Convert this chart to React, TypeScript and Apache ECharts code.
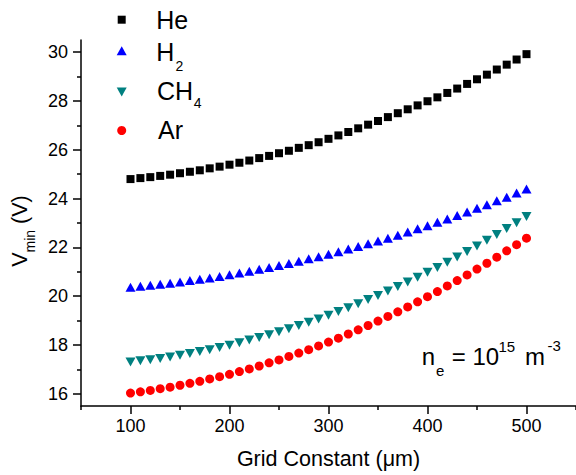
import React, { useEffect, useRef } from "react";
import * as echarts from "echarts";

const gridConstant = [
  100, 110, 120, 130, 140, 150, 160, 170, 180, 190, 200, 210, 220, 230, 240, 250, 260, 270, 280, 290,
  300, 310, 320, 330, 340, 350, 360, 370, 380, 390, 400, 410, 420, 430, 440, 450, 460, 470, 480, 490, 500,
];

const heValues = [
  24.8, 24.84, 24.88, 24.93, 24.98, 25.04, 25.1, 25.16, 25.24, 25.31, 25.39, 25.47, 25.56, 25.66, 25.75,
  25.86, 25.96, 26.08, 26.19, 26.31, 26.45, 26.59, 26.73, 26.88, 27.03, 27.18, 27.34, 27.5, 27.66, 27.82,
  27.99, 28.15, 28.33, 28.51, 28.7, 28.89, 29.08, 29.29, 29.49, 29.7, 29.92,
];

const h2Values = [
  20.37, 20.41, 20.45, 20.49, 20.53, 20.58, 20.64, 20.69, 20.75, 20.81, 20.88, 20.95, 21.02, 21.1, 21.18,
  21.26, 21.34, 21.43, 21.53, 21.62, 21.72, 21.82, 21.93, 22.04, 22.15, 22.26, 22.38, 22.5, 22.63, 22.76,
  22.89, 23.03, 23.16, 23.31, 23.45, 23.6, 23.75, 23.91, 24.06, 24.23, 24.39,
];

const ch4Values = [
  17.3, 17.35, 17.4, 17.45, 17.51, 17.58, 17.65, 17.73, 17.81, 17.9, 17.99, 18.09, 18.2, 18.31, 18.42,
  18.54, 18.67, 18.8, 18.93, 19.07, 19.22, 19.37, 19.53, 19.69, 19.86, 20.03, 20.21, 20.4, 20.58, 20.78,
  20.98, 21.18, 21.39, 21.61, 21.83, 22.06, 22.29, 22.53, 22.77, 23.01, 23.27,
];

const arValues = [
  16.03, 16.08, 16.14, 16.21, 16.27, 16.35, 16.43, 16.51, 16.61, 16.7, 16.8, 16.91, 17.02, 17.14, 17.27,
  17.39, 17.53, 17.67, 17.81, 17.96, 18.12, 18.28, 18.45, 18.62, 18.8, 18.98, 19.17, 19.36, 19.56, 19.77,
  19.98, 20.19, 20.42, 20.64, 20.87, 21.11, 21.35, 21.6, 21.86, 22.11, 22.38,
];

const seriesNames = ["He", "H2", "CH4", "Ar"];
const seriesColors = ["#000000", "#0000FF", "#008080", "#FF0000"];

const xMajorTicks = [100, 200, 300, 400, 500];
const xMinorTicks = [50, 150, 250, 350, 450, 550];
const yMajorTicks = [16, 18, 20, 22, 24, 26, 28, 30];
const yMinorTicks = [17, 19, 21, 23, 25, 27, 29];

const FONT = "'Liberation Sans', Arial, sans-serif";

function pairs(vals: number[]) {
  return gridConstant.map((x, i) => [x, vals[i]]);
}

function txt(text: string, x: number, y: number, size: number) {
  return {
    type: "text",
    x,
    y,
    silent: true,
    style: {
      text,
      fill: "#000",
      fontFamily: FONT,
      fontSize: size,
      align: "left",
      verticalAlign: "middle",
    },
  };
}

export default function App() {
  const ref = useRef<HTMLDivElement>(null);
  useEffect(() => {
    if (!ref.current) return;
    const chart = echarts.init(ref.current, null, { renderer: "svg" });
    const axisLine = { show: true, lineStyle: { color: "#000", width: 1.5 } };
    const legendGraphic = [
      { type: "rect", shape: { x: 117.7, y: 15.7, width: 8, height: 8 }, style: { fill: seriesColors[0] } },
      txt("He", 156.3, 19.5, 25),
      {
        type: "polygon",
        shape: { points: [[116.7, 55.2], [126.7, 55.2], [121.7, 46.2]] },
        style: { fill: seriesColors[1] },
      },
      txt("H", 156.3, 51.7, 25),
      txt("2", 175.5, 65.5, 14),
      {
        type: "polygon",
        shape: { points: [[116.7, 87.5], [126.7, 87.5], [121.7, 96.5]] },
        style: { fill: seriesColors[2] },
      },
      txt("CH", 157, 90.8, 25),
      txt("4", 193.8, 103.3, 14),
      { type: "circle", shape: { cx: 121.7, cy: 130.5, r: 4.5 }, style: { fill: seriesColors[3] } },
      txt("Ar", 158, 130, 25),
    ];
    const annotation = [
      txt("n", 421.7, 356, 24),
      txt("e", 436, 370, 15),
      txt("= 10", 451.8, 356, 24),
      txt("15", 498.5, 346, 15),
      txt("m", 525, 356, 24),
      txt("-3", 547.5, 345, 15),
    ];
    const option: any = {
      animation: false,
      backgroundColor: "#fff",
      textStyle: { fontFamily: FONT },
      grid: { left: 81, right: 0, top: 40, bottom: 68, containLabel: false },
      xAxis: [
        {
          type: "value",
          position: "bottom",
          min: 50,
          max: 550,
          name: "Grid Constant (μm)",
          nameLocation: "middle",
          nameGap: 42,
          nameTextStyle: { fontSize: 21.5, color: "#000", fontFamily: FONT },
          axisLine,
          axisTick: { show: true, length: 8, customValues: xMajorTicks, lineStyle: { color: "#000", width: 1.5 } },
          axisLabel: { customValues: xMajorTicks, fontSize: 18, color: "#000", margin: 11, fontFamily: FONT },
          splitLine: { show: false },
        },
        {
          type: "value",
          position: "bottom",
          min: 50,
          max: 550,
          axisLine: { show: false },
          axisTick: { show: true, length: 4, customValues: xMinorTicks, lineStyle: { color: "#000", width: 1.5 } },
          axisLabel: { show: false },
          splitLine: { show: false },
        },
      ],
      yAxis: [
        {
          type: "value",
          position: "left",
          min: 15.5,
          max: 30.5,
          name: "{n|V}{s|min}{n| (V)}",
          nameLocation: "middle",
          nameGap: 36,
          nameTextStyle: {
            color: "#000",
            fontFamily: FONT,
            padding: [0, 16, 0, 0],
            rich: {
              n: { fontSize: 21.5, fontFamily: FONT, color: "#000" },
              s: { fontSize: 14, padding: [20, 0, 0, 0], fontFamily: FONT, color: "#000" },
            },
          },
          axisLine,
          axisTick: { show: true, length: 8, customValues: yMajorTicks, lineStyle: { color: "#000", width: 1.5 } },
          axisLabel: { customValues: yMajorTicks, fontSize: 18, color: "#000", margin: 13, fontFamily: FONT },
          splitLine: { show: false },
        },
        {
          type: "value",
          position: "left",
          min: 15.5,
          max: 30.5,
          axisLine: { show: false },
          axisTick: { show: true, length: 4, customValues: yMinorTicks, lineStyle: { color: "#000", width: 1.5 } },
          axisLabel: { show: false },
          splitLine: { show: false },
        },
      ],
      graphic: [...legendGraphic, ...annotation],
      series: [
        {
          name: seriesNames[0],
          type: "scatter",
          symbol: "rect",
          symbolSize: 8,
          itemStyle: { color: seriesColors[0], opacity: 1 },
          data: pairs(heValues),
        },
        {
          name: seriesNames[1],
          type: "scatter",
          symbol: "triangle",
          symbolSize: [10, 9],
          itemStyle: { color: seriesColors[1], opacity: 1 },
          data: pairs(h2Values),
        },
        {
          name: seriesNames[2],
          type: "scatter",
          symbol: "triangle",
          symbolRotate: 180,
          symbolSize: [10, 9],
          itemStyle: { color: seriesColors[2], opacity: 1 },
          data: pairs(ch4Values),
        },
        {
          name: seriesNames[3],
          type: "scatter",
          symbol: "circle",
          symbolSize: 9,
          itemStyle: { color: seriesColors[3], opacity: 1 },
          data: pairs(arValues),
        },
      ],
    };
    chart.setOption(option);
    return () => chart.dispose();
  }, []);
  return (
    <div
      ref={ref}
      style={{ position: "fixed", left: 0, top: 0, width: 576, height: 475, background: "#fff" }}
    />
  );
}
